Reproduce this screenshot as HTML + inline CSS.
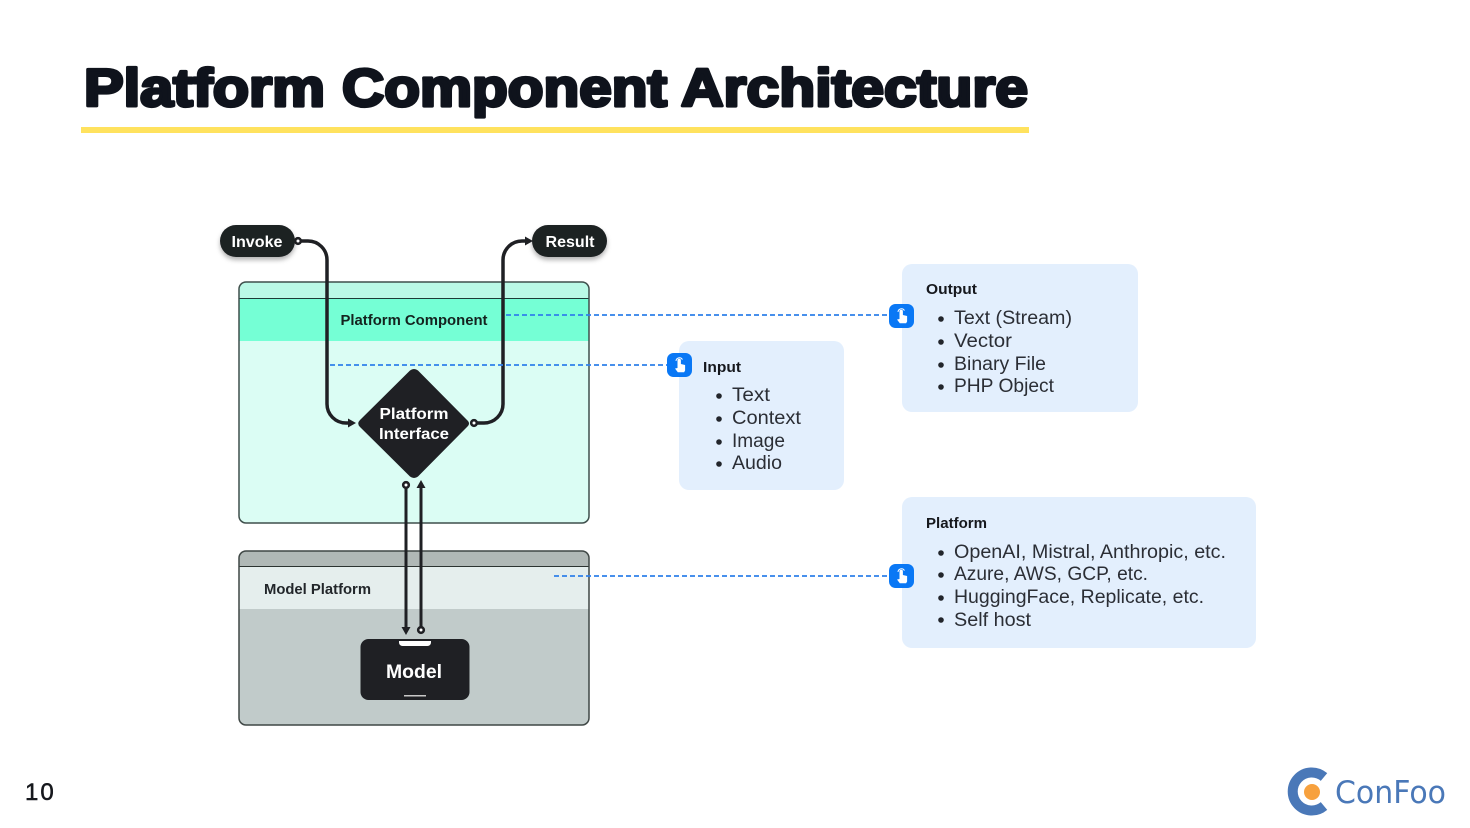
<!DOCTYPE html>
<html><head><meta charset="utf-8"><style>
html,body{margin:0;padding:0;background:#fff;width:1470px;height:828px;overflow:hidden}
svg{display:block}
text{font-family:"Liberation Sans",sans-serif}
.b{font-weight:700}
.li{font-size:19px;fill:#2b2e35}
.h{font-size:14.5px;font-weight:700;fill:#16181d}
.t{font-weight:700;font-size:53px;fill:#0f131c;stroke:#0f131c;stroke-width:3.2px;stroke-linejoin:round}
</style></head><body>
<svg width="1470" height="828" viewBox="0 0 1470 828" xmlns="http://www.w3.org/2000/svg">
<defs>
<filter id="s" x="-20%" y="-30%" width="140%" height="180%"><feDropShadow dx="0" dy="3" stdDeviation="2.5" flood-color="#000" flood-opacity=".3"/></filter>
<g id="hand"><rect width="25" height="24" rx="6.500" fill="#0a78f5"/><path d="M10.5 15V7.500a1.700 1.700 0 0 1 3.400 0V11l4.200 1v5.500l-1 1.800H10.800L8 15.500z" fill="#fff"/><path d="M9 8a3.400 3.400 0 0 1 6.400-1.400" fill="none" stroke="#fff" stroke-width="1"/></g>
</defs>
<text x="84" y="106" class="t" textLength="241" lengthAdjust="spacingAndGlyphs">Platform</text>
<text x="342" y="106" class="t" textLength="325" lengthAdjust="spacingAndGlyphs">Component</text>
<text x="681" y="106" class="t" textLength="347" lengthAdjust="spacingAndGlyphs">Architecture</text>
<rect x="81" y="127" width="948" height="6" fill="#ffe25e"/>

<rect x="239" y="282" width="350" height="241" rx="7" fill="#dbfdf4"/>
<path d="M239 298V289a7 7 0 0 1 7-7h336a7 7 0 0 1 7 7v9z" fill="#baf9e6"/>
<rect x="239" y="298" width="350" height="43" fill="#75ffd5"/>
<line x1="239" y1="298.500" x2="589" y2="298.500" stroke="#1d3b36" stroke-width="1"/>
<rect x="239" y="282" width="350" height="241" rx="7" fill="none" stroke="#3f4f4c" stroke-width="1.500"/>
<text x="414" y="325" text-anchor="middle" class="b" font-size="14.500" fill="#14231f" textLength="147" lengthAdjust="spacingAndGlyphs">Platform Component</text>

<rect x="239" y="551" width="350" height="174" rx="7" fill="#c1cbca"/>
<path d="M239 567V558a7 7 0 0 1 7-7h336a7 7 0 0 1 7 7v9z" fill="#b0b8b6"/>
<rect x="239" y="567" width="350" height="42" fill="#e5eeed"/>
<line x1="239" y1="566.500" x2="589" y2="566.500" stroke="#2c3331" stroke-width="1"/>
<rect x="239" y="551" width="350" height="174" rx="7" fill="none" stroke="#3f4745" stroke-width="1.500"/>
<text x="264" y="594" class="b" font-size="14.500" fill="#22262a" textLength="107" lengthAdjust="spacingAndGlyphs">Model Platform</text>

<g fill="none" stroke="#1f2024" stroke-width="3.500">
<path d="M298 241h10a19 19 0 0 1 19 19V404a19 19 0 0 0 19 19h4"/>
<path d="M474 423h10a19 19 0 0 0 19-19V260a19 19 0 0 1 19-19h4"/>
<path d="M406 487V628" stroke-width="3"/>
<path d="M421 486V627" stroke-width="3"/>
</g>
<g fill="#1f2024">
<path d="M356 423l-8-4.500v9z"/>
<path d="M533 241l-8-4.500v9z"/>
<path d="M406 635l-4.500-8h9z"/>
<path d="M421 480l-4.500 8h9z"/>
</g>
<g fill="#fff" stroke="#1f2024" stroke-width="2.600">
<circle cx="298" cy="241" r="2.800"/>
<circle cx="474" cy="423" r="2.800"/>
<circle cx="406" cy="485" r="2.800"/>
<circle cx="421" cy="630" r="2.800"/>
</g>

<rect x="220" y="225" width="75" height="32" rx="16" fill="#1f2024" filter="url(#s)"/>
<text x="257" y="247" text-anchor="middle" class="b" font-size="15.500" fill="#fff" textLength="51" lengthAdjust="spacingAndGlyphs">Invoke</text>
<rect x="532" y="225" width="75" height="32" rx="16" fill="#1f2024" filter="url(#s)"/>
<text x="570" y="247" text-anchor="middle" class="b" font-size="15.500" fill="#fff" textLength="49" lengthAdjust="spacingAndGlyphs">Result</text>

<path d="M410 370.500q4-3 8 0l49 49.500q4 3.500 0 7l-49 49.500q-4 3-8 0l-50-49.500q-3.500-3.500 0-7z" fill="#1f2024"/>
<text x="414" y="419" text-anchor="middle" class="b" font-size="16" fill="#fff" textLength="69" lengthAdjust="spacingAndGlyphs">Platform</text>
<text x="414" y="439" text-anchor="middle" class="b" font-size="16" fill="#fff" textLength="70" lengthAdjust="spacingAndGlyphs">Interface</text>

<rect x="360.500" y="639" width="109" height="61" rx="8" fill="#1f2024"/>
<path d="M399 641h32v1.500a3.500 3.500 0 0 1-3.500 3.500h-25a3.500 3.500 0 0 1-3.500-3.500z" fill="#fff"/>
<rect x="404" y="695" width="22" height="1.500" fill="#c8c8c8"/>
<text x="414" y="678" text-anchor="middle" class="b" font-size="19" fill="#fff" textLength="56" lengthAdjust="spacingAndGlyphs">Model</text>

<g fill="none" stroke="#2f80ea" stroke-width="1.700" stroke-dasharray="5 3">
<line x1="506" y1="315" x2="890" y2="315"/>
<line x1="330" y1="365" x2="668" y2="365"/>
<line x1="554" y1="576" x2="890" y2="576"/>
</g>

<rect x="902" y="264" width="236" height="148" rx="10" fill="#e3effd"/>
<rect x="679" y="341" width="165" height="149" rx="10" fill="#e3effd"/>
<rect x="902" y="497" width="354" height="151" rx="10" fill="#e3effd"/>

<use href="#hand" x="889" y="304"/>
<use href="#hand" x="667" y="353"/>
<use href="#hand" x="889" y="564"/>

<text x="926" y="294" class="h" textLength="51" lengthAdjust="spacingAndGlyphs">Output</text>
<g fill="#22252b"><circle cx="941" cy="319" r="2.800"/><circle cx="941" cy="342" r="2.800"/><circle cx="941" cy="365" r="2.800"/><circle cx="941" cy="387" r="2.800"/></g>
<text x="954" y="324" class="li" textLength="118" lengthAdjust="spacingAndGlyphs">Text (Stream)</text>
<text x="954" y="347" class="li" textLength="58" lengthAdjust="spacingAndGlyphs">Vector</text>
<text x="954" y="370" class="li" textLength="92" lengthAdjust="spacingAndGlyphs">Binary File</text>
<text x="954" y="392" class="li" textLength="100" lengthAdjust="spacingAndGlyphs">PHP Object</text>

<text x="703" y="372" class="h" textLength="38" lengthAdjust="spacingAndGlyphs">Input</text>
<g fill="#22252b"><circle cx="719" cy="396" r="2.800"/><circle cx="719" cy="419" r="2.800"/><circle cx="719" cy="442" r="2.800"/><circle cx="719" cy="464" r="2.800"/></g>
<text x="732" y="401" class="li" textLength="38" lengthAdjust="spacingAndGlyphs">Text</text>
<text x="732" y="424" class="li" textLength="69" lengthAdjust="spacingAndGlyphs">Context</text>
<text x="732" y="447" class="li" textLength="53" lengthAdjust="spacingAndGlyphs">Image</text>
<text x="732" y="469" class="li" textLength="50" lengthAdjust="spacingAndGlyphs">Audio</text>

<text x="926" y="528" class="h" textLength="61" lengthAdjust="spacingAndGlyphs">Platform</text>
<g fill="#22252b"><circle cx="941" cy="553" r="2.800"/><circle cx="941" cy="575" r="2.800"/><circle cx="941" cy="598" r="2.800"/><circle cx="941" cy="620" r="2.800"/></g>
<text x="954" y="558" class="li" textLength="272" lengthAdjust="spacingAndGlyphs">OpenAI, Mistral, Anthropic, etc.</text>
<text x="954" y="580" class="li" textLength="194" lengthAdjust="spacingAndGlyphs">Azure, AWS, GCP, etc.</text>
<text x="954" y="603" class="li" textLength="250" lengthAdjust="spacingAndGlyphs">HuggingFace, Replicate, etc.</text>
<text x="954" y="626" class="li" textLength="77" lengthAdjust="spacingAndGlyphs">Self host</text>

<text x="25" y="800" font-size="24" fill="#16181d" stroke="#16181d" stroke-width=".5" letter-spacing="2">10</text>

<path d="M1324 777A19 19 0 1 0 1324 806" fill="none" stroke="#4a78b8" stroke-width="10"/>
<circle cx="1312" cy="792" r="8" fill="#f7a13e"/>
<text x="1335" y="803" style="font-family:'DejaVu Sans',sans-serif" font-size="31" fill="#4a78b8" textLength="111" lengthAdjust="spacingAndGlyphs">ConFoo</text>
</svg>
</body></html>
